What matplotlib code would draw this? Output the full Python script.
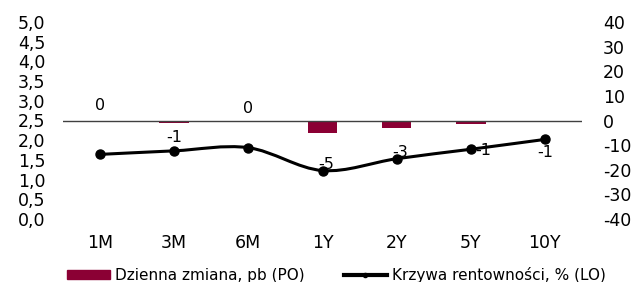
import numpy as np
import matplotlib
matplotlib.use("Agg")
import matplotlib.pyplot as plt
from matplotlib.path import Path
from matplotlib.patches import PathPatch, Rectangle
from matplotlib.lines import Line2D

# ---- data ----
categories = ["1M", "3M", "6M", "1Y", "2Y", "5Y", "10Y"]
daily_change_bp = [0.0, -1.1, 0.0, -4.9, -3.1, -1.4, -0.6]      # right axis (PO)
yield_curve_pct = [1.64, 1.73, 1.81, 1.23, 1.53, 1.77, 2.02]     # left axis (LO)
left_ticks = [0.0, 0.5, 1.0, 1.5, 2.0, 2.5, 3.0, 3.5, 4.0, 4.5, 5.0]
right_ticks = [-40, -30, -20, -10, 0, 10, 20, 30, 40]
legend_labels = ["Dzienna zmiana, pb (PO)", "Krzywa rentowności, % (LO)"]

BAR_COLOR = "#8B0034"
plt.rcParams["font.family"] = ["DejaVu Sans"]

fig = plt.figure(figsize=(6.38, 2.82), dpi=100)
ax = fig.add_axes([63 / 638, 1 - 219 / 282, (582 - 63) / 638, (219 - 22) / 282])
ax2 = ax.twinx()

x = np.arange(len(categories))

# bars on the right axis
ax2.bar(x, daily_change_bp, width=0.4, color=BAR_COLOR, zorder=2)
ax2.axhline(0, color="#404040", lw=1.0, zorder=3)
ax2.set_ylim(-40, 40)
ax2.set_yticks(right_ticks)
ax2.set_yticklabels([str(t) for t in right_ticks])

# data labels for bars (placed as in the reference)
label_y = [6, -7, 5, -18, -13, -12, -13]
label_dx = [0, 0, 0, 0.05, 0.05, 0.17, 0]
for xi, v, ly, dx in zip(x, daily_change_bp, label_y, label_dx):
    ax2.text(xi + dx, ly, f"{round(v):.0f}", ha="center", va="center",
             fontsize=11.5, color="#000000", zorder=1)

# smoothed line (Catmull-Rom Bezier through the data) on the left axis
ax.set_zorder(ax2.get_zorder() + 1)
ax.patch.set_visible(False)
pts = np.column_stack([x, yield_curve_pct]).astype(float)
verts = [pts[0]]
codes = [Path.MOVETO]
n = len(pts)
for i in range(n - 1):
    p0 = pts[i - 1] if i > 0 else pts[i]
    p1 = pts[i]
    p2 = pts[i + 1]
    p3 = pts[i + 2] if i + 2 < n else pts[i + 1]
    c1 = p1 + (p2 - p0) / 6.0
    c2 = p2 - (p3 - p1) / 6.0
    verts += [c1, c2, p2]
    codes += [Path.CURVE4] * 3
ax.add_patch(PathPatch(Path(verts, codes), fill=False, edgecolor="black",
                       lw=2.2, capstyle="round", joinstyle="round", zorder=4))
ax.plot(x, yield_curve_pct, linestyle="none", marker="o", ms=6.5,
        color="black", zorder=5)

ax.set_ylim(0, 5)
ax.set_yticks(left_ticks)
ax.set_yticklabels([f"{t:.1f}".replace(".", ",") for t in left_ticks])
ax.set_xlim(-0.5, len(categories) - 0.5)
ax.set_xticks(x)
ax.set_xticklabels(categories)

for a in (ax, ax2):
    for s in a.spines.values():
        s.set_visible(False)
    a.tick_params(length=0, labelsize=12.5, colors="#000000")
ax.tick_params(axis="y", pad=12.5)
ax.tick_params(axis="x", pad=11)
ax2.tick_params(axis="y", pad=15)

# legend
handles = [Rectangle((0, 0), 1, 0.5, color=BAR_COLOR),
           Line2D([0], [0], color="black", lw=3, marker="o", ms=3)]
fig.legend(handles, legend_labels, loc="center", ncol=2,
           bbox_to_anchor=(0.527, 1 - 275 / 282), frameon=False, fontsize=11,
           handlelength=2.8, handleheight=0.45, handletextpad=0.33,
           columnspacing=2.6)

fig.savefig("out.png", dpi=100)
